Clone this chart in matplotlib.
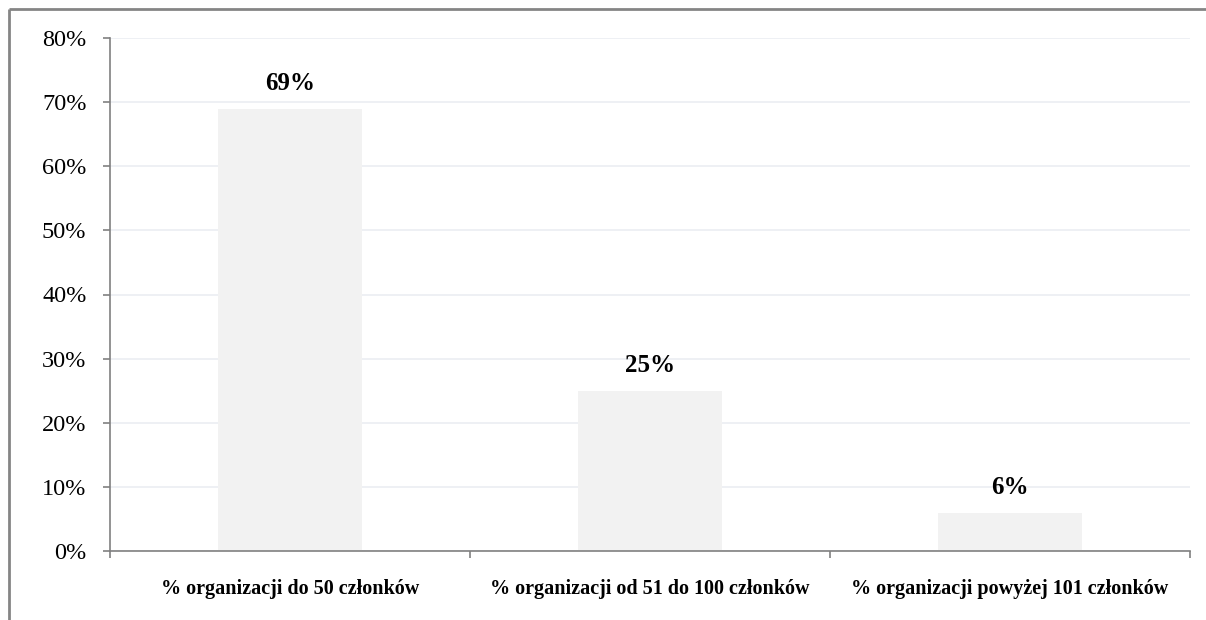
import matplotlib
matplotlib.use("Agg")
import matplotlib.pyplot as plt
from matplotlib.lines import Line2D
import numpy as np

categories = ["% organizacji do 50 członków",
              "% organizacji od 51 do 100 członków",
              "% organizacji powyżej 101 członków"]
values = [69, 25, 6]
value_labels = ["69%", "25%", "6%"]
yticks = [0, 10, 20, 30, 40, 50, 60, 70, 80]
ytick_labels = ["0%", "10%", "20%", "30%", "40%", "50%", "60%", "70%", "80%"]

W, H = 1206, 620
fig = plt.figure(figsize=(W/100, H/100), dpi=100)
ax = fig.add_axes([110/W, 1-551/H, (1190-110)/W, (551-38)/H])

x = np.arange(len(categories))
ax.bar(x, values, width=0.4, color="#F2F2F2", zorder=2)
ax.set_xlim(-0.5, len(categories)-0.5)
ax.set_ylim(0, 80)

ax.set_yticks(yticks)
ax.set_yticklabels(ytick_labels, family="Liberation Serif", fontsize=17.5)
ax.yaxis.grid(True, color="#EBEEF2", linewidth=1.2, zorder=0)
ax.set_axisbelow(True)

ax.set_xticks(np.arange(len(categories)+1)-0.5)
ax.set_xticklabels([])
ax.set_xticks(x, minor=True)
ax.set_xticklabels(categories, minor=True, family="Liberation Serif",
                   fontweight="bold", fontsize=14.5)
ax.tick_params(axis="x", which="major", length=5, color="#808080", width=1.2)
ax.tick_params(axis="x", which="minor", length=0, pad=20)
ax.tick_params(axis="y", length=5, color="#808080", width=1.2, pad=12)

for s in ["top", "right"]:
    ax.spines[s].set_visible(False)
for s in ["left", "bottom"]:
    ax.spines[s].set_color("#808080")
    ax.spines[s].set_linewidth(1.2)

for xi, v, lab in zip(x, values, value_labels):
    ax.annotate(lab, (xi, v), xytext=(0, 18), textcoords="offset points",
                ha="center", va="center", family="Liberation Serif",
                fontweight="bold", fontsize=18)

fig.add_artist(Line2D([9/W, 1.01], [1-9/H, 1-9/H], color="#858585", linewidth=2,
                      transform=fig.transFigure, solid_capstyle="butt"))
fig.add_artist(Line2D([9/W, 9/W], [-0.01, 1-9/H], color="#858585", linewidth=2,
                      transform=fig.transFigure, solid_capstyle="butt"))

fig.savefig("out.png", dpi=100)
